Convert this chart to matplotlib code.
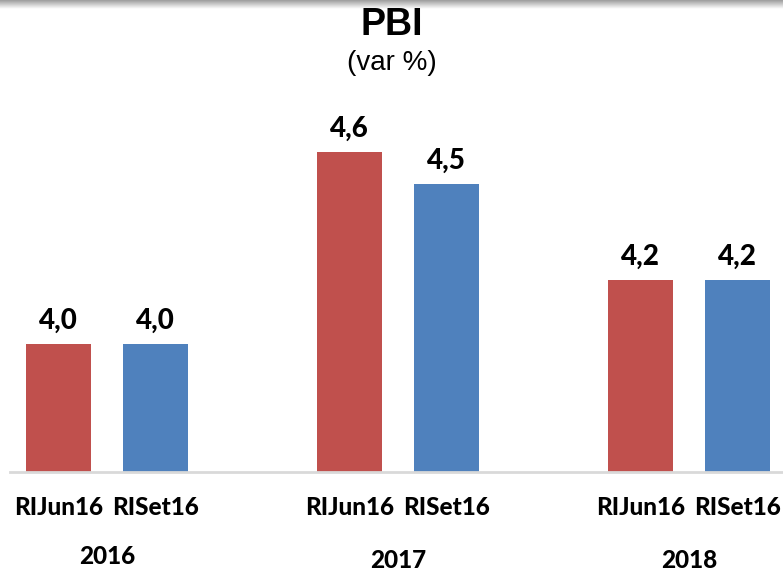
import matplotlib.pyplot as plt
import numpy as np

years = ["2016", "2017", "2018"]
series = ["RIJun16", "RISet16"]
rijun16 = [4.0, 4.6, 4.2]
riset16 = [4.0, 4.5, 4.2]

red = "#C0504D"
blue = "#4F81BD"
lab_font = "Lato"

fig = plt.figure(figsize=(7.83, 5.72), dpi=100)

# gray shaded strip at the very top
band = fig.add_axes([0, 1 - 9 / 572, 1, 9 / 572])
grad = np.linspace(0.62, 1.0, 20).reshape(-1, 1)
band.imshow(grad, aspect="auto", cmap="gray", vmin=0, vmax=1, extent=[0, 1, 0, 1])
band.axis("off")

ax = fig.add_axes([10 / 783, 1 - 472 / 572, 773 / 783, 372 / 572])

x = np.arange(len(years)) * 3
w = 0.67
b1 = ax.bar(x, rijun16, w, color=red)
b2 = ax.bar(x + 1, riset16, w, color=blue)

for bars, vals in [(b1, rijun16), (b2, riset16)]:
    for b, v in zip(bars, vals):
        ax.text(b.get_x() + b.get_width() / 2, v + 0.072, f"{v:.1f}".replace(".", ","),
                ha="center", va="center", fontsize=20, fontweight="black",
                family=lab_font)

ax.set_ylim(3.6, 4.7625)
ax.set_xlim(-0.5, 7.47)

ticks = np.concatenate([x, x + 1])
ax.set_xticks(sorted(ticks))
ax.set_xticklabels(series * len(years), fontsize=17.5, fontweight="black", family=lab_font)
ax.tick_params(axis="x", length=0, pad=17)
ax.set_yticks([])

year_y = [556, 561, 561]
for xi, yr, yy in zip(x, years, year_y):
    fig.text((10 + (xi + 0.5 + 0.5) * 97) / 783, 1 - yy / 572, yr, ha="center", va="center",
             fontsize=17.5, fontweight="black", family=lab_font)

for s in ["top", "right", "left"]:
    ax.spines[s].set_visible(False)
ax.spines["bottom"].set_color("#D9D9D9")
ax.spines["bottom"].set_linewidth(2)

fig.text(0.5, 1 - 25 / 572, "PBI", ha="center", va="center", fontsize=27,
         fontweight="bold", family="Liberation Sans")
fig.text(0.5, 1 - 63 / 572, "(var %)", ha="center", va="center", fontsize=20,
         family="Liberation Sans")

fig.savefig("out.png", dpi=100)
